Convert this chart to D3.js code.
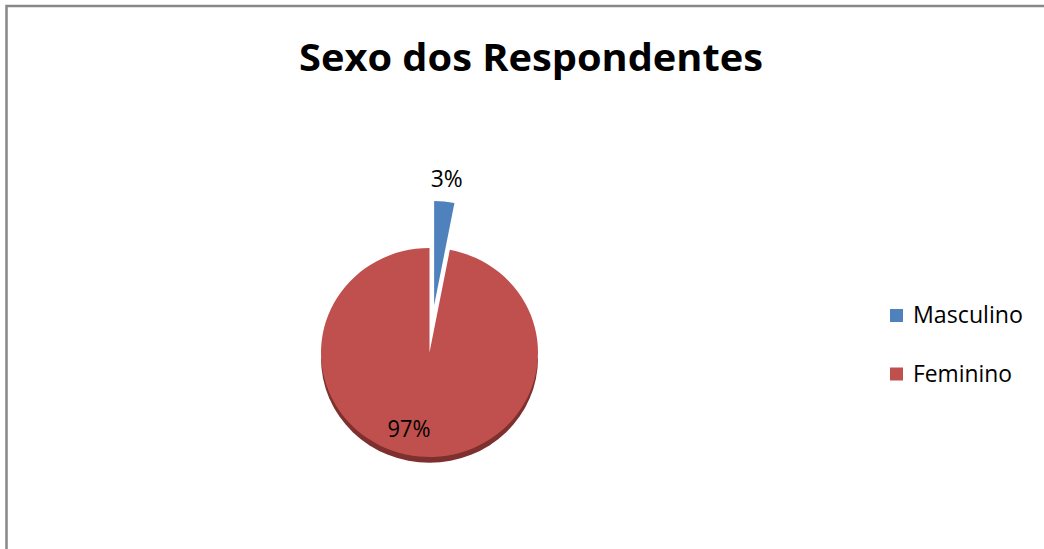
<!DOCTYPE html>
<html>
<head>
  <meta charset="utf-8">
  <script src="https://d3js.org/d3.v7.min.js"></script>
  <style type="text/css">
    body { margin: 0; background: #fff; }
    .title {
      font-family: "Open Sans", sans-serif;
      font-weight: bold;
      font-size: 38px;
      fill: #000;
    }
    .label, .legend {
      font-family: "Open Sans", sans-serif;
      font-size: 24px;
      fill: #000;
    }
  </style>
</head>
<body>
<script type="text/javascript">
  // data
  var categories = ["Masculino", "Feminino"];
  var values = [3, 97];
  var labels = ["3%", "97%"];
  var colors = ["#4F81BD", "#C0504D"];

  var width = 1044,
      height = 549,
      cx = 429.5,
      cy = 352.5,
      radius = 108.5,
      tilt = 0.963,
      explode = 49;

  var svg = d3.select("body").append("svg")
      .attr("width", width)
      .attr("height", height);

  // chart border (top and left visible)
  svg.append("path")
      .attr("d", "M6.5," + height + "V6H" + width)
      .attr("fill", "none")
      .attr("stroke", "#888")
      .attr("stroke-width", 2.5);

  //Title
  svg.append("text")
      .attr("class", "title")
      .attr("x", 531)
      .attr("y", 71)
      .attr("text-anchor", "middle")
      .attr("textLength", 464)
      .attr("lengthAdjust", "spacingAndGlyphs")
      .text("Sexo dos Respondentes");

  var pie = d3.pie().sort(null).value(function(d) { return d; });
  var arcs = pie(values);
  var arc = d3.arc().innerRadius(0).outerRadius(radius);

  var g = svg.append("g")
      .attr("transform", "translate(" + cx + "," + cy + ") scale(1," + tilt + ")");

  // 3d side of the pie (lower half only shows)
  g.append("path")
      .attr("d", arc({startAngle: Math.PI / 2, endAngle: Math.PI * 1.5}))
      .attr("transform", "translate(0,6)")
      .attr("fill", "#7E302E");

  function offset(d, i) {
    if (i !== 0) return [0, 0];
    var a = (d.startAngle + d.endAngle) / 2;
    return [Math.sin(a) * explode, -Math.cos(a) * explode];
  }

  g.selectAll(".slice")
      .data(arcs)
      .enter().append("path")
      .attr("class", "slice")
      .attr("d", arc)
      .attr("transform", function(d, i) { var o = offset(d, i); return "translate(" + o[0] + "," + o[1] + ")"; })
      .attr("fill", function(d, i) { return colors[i]; });

  // data labels
  var outerLabel = d3.arc().innerRadius(radius + 74).outerRadius(radius + 74);
  var innerLabel = d3.arc().innerRadius(radius * 0.73).outerRadius(radius * 0.73);
  var labelWidths = [32, 43];

  svg.selectAll(".label")
      .data(arcs)
      .enter().append("text")
      .attr("class", "label")
      .attr("text-anchor", "middle")
      .attr("textLength", function(d, i) { return labelWidths[i]; })
      .attr("lengthAdjust", "spacingAndGlyphs")
      .attr("x", function(d, i) {
        var c = i === 0 ? outerLabel.centroid(d) : innerLabel.centroid(d);
        return cx + c[0] + (i === 0 ? 0 : -13);
      })
      .attr("y", function(d, i) {
        var c = i === 0 ? outerLabel.centroid(d) : innerLabel.centroid(d);
        return cy + c[1] * tilt + 9;
      })
      .text(function(d, i) { return labels[i]; });

  // Legend
  var legendWidths = [110, 99];
  var legend = svg.selectAll(".legend-item")
      .data(categories)
      .enter().append("g")
      .attr("class", "legend-item")
      .attr("transform", function(d, i) { return "translate(890," + (309 + i * 58.5) + ")"; });

  legend.append("rect")
      .attr("width", 13)
      .attr("height", 13)
      .attr("fill", function(d, i) { return colors[i]; });

  legend.append("text")
      .attr("class", "legend")
      .attr("x", 23)
      .attr("y", 14)
      .attr("textLength", function(d, i) { return legendWidths[i]; })
      .attr("lengthAdjust", "spacingAndGlyphs")
      .text(function(d) { return d; });
</script>
</body>
</html>
